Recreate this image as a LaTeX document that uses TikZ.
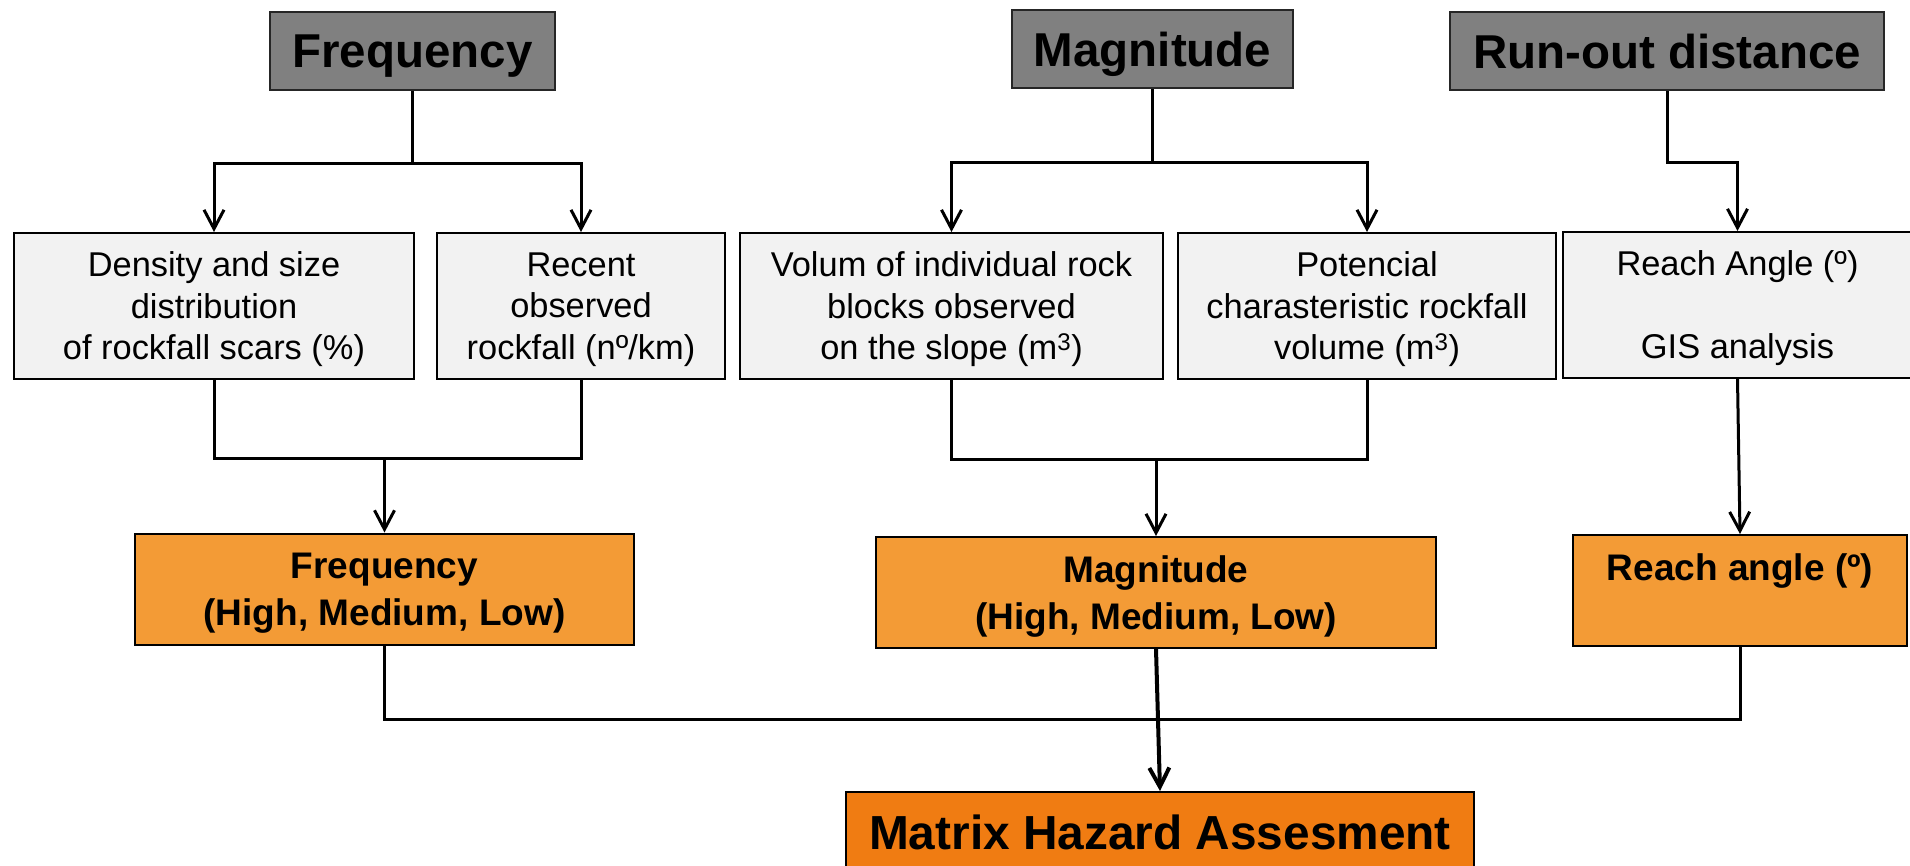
\documentclass[tikz,border=0pt]{standalone}
\usepackage{fontspec}
\setmainfont{Liberation Sans}
\usetikzlibrary{arrows.meta}

\definecolor{headgray}{RGB}{128,128,128}
\definecolor{boxgray}{RGB}{242,242,242}
\definecolor{resorange}{RGB}{243,155,54}
\definecolor{matorange}{RGB}{240,124,18}

\tikzset{
    header/.style={draw=black!85, line width=2pt, fill=headgray, inner sep=0pt, text depth=0pt,
        minimum height=78pt, font=\fontsize{47.5}{57}\selectfont\bfseries},
    source/.style={draw, line width=2pt, fill=boxgray, inner sep=0pt, align=center, text depth=0pt,
        minimum height=146pt, font=\fontsize{34.4}{41.5}\selectfont},
    result/.style={draw, line width=2pt, fill=resorange, inner sep=0pt, align=center, text depth=0pt,
        minimum height=111pt, font=\fontsize{37}{47}\selectfont\bfseries},
    final/.style={draw, line width=2pt, fill=matorange, inner sep=0pt, text depth=0pt,
        minimum height=80pt, font=\fontsize{47.8}{57}\selectfont\bfseries},
    link/.style={line width=3pt},
    arr/.style={link, -{Straight Barb[length=19pt,width=20pt]}}
}

\begin{document}
\begin{tikzpicture}[x=1pt, y=-1pt]
            \useasboundingbox (0,0) rectangle (1910,865);

            % top row
            \node[header, minimum width=285pt] (hfreq) at (412.5, 51){Frequency};
            \node[header, minimum width=281pt] (hmag) at (1152.5, 49){Magnitude};
            \node[header, minimum width=434pt] (hrun) at (1667, 51){Run-out distance};

            % parameters
            \node[source, minimum width=400pt] (density) at (214, 306)
                {Density and size\\distribution\\of rockfall scars (\%)};
            \node[source, minimum width=288pt] (recent) at (581, 306)
                {Recent\\observed\\rockfall (nº/km)};
            \node[source, minimum width=423pt] (volum) at (951.5, 306)
                {Volum of individual rock\\blocks observed\\on the slope (m\textsuperscript{3})};
            \node[source, minimum width=378pt] (potencial) at (1367, 306)
                {Potencial\\charasteristic rockfall\\volume (m\textsuperscript{3})};
            \node[source, minimum width=349pt] (reach) at (1737.5, 305)
                {Reach Angle (º)\\\strut\\GIS analysis};

            % classes
            \node[result, minimum width=499pt] (ofreq) at (384.5, 589)
                {Frequency\\(High, Medium, Low)};
            \node[result, minimum width=560pt] (omag) at (1156, 592.5)
                {Magnitude\\(High, Medium, Low)};
            \node[result, minimum width=334pt] (oreach) at (1740, 590.5)
                {Reach angle (º)\\\strut};

            \node[final, minimum width=628pt] (matrix) at (1160, 832){Matrix Hazard Assesment};

            % branches down
            \draw[link] (hfreq.south) -- ++(0,72) coordinate (fj);
            \draw[arr] (fj) -| (density.north);
            \draw[arr] (fj) -| (recent.north);

            \draw[link] (hmag.south) -- ++(0,73) coordinate (mj);
            \draw[arr] (mj) -| (volum.north);
            \draw[arr] (mj) -| (potencial.north);

            \draw[arr] (hrun.south) -- ++(0,71) -| (reach.north);

            % joins
            \draw[link] (density.south) -- ++(0,78) coordinate (dj) -| (recent.south);
            \draw[arr] (dj -| ofreq.north) -- (ofreq.north);

            \draw[link] (volum.south) -- ++(0,79) coordinate (vj) -| (potencial.south);
            \draw[arr] (vj -| omag.north) -- (omag.north);

            \draw[arr] (reach.south) -- (oreach.north);

            \draw[link] (ofreq.south) -- ++(0,74) -| (oreach.south);
            \draw[arr, line width=4pt] (omag.south) -- (matrix.north);

        \end{tikzpicture}
\end{document}
